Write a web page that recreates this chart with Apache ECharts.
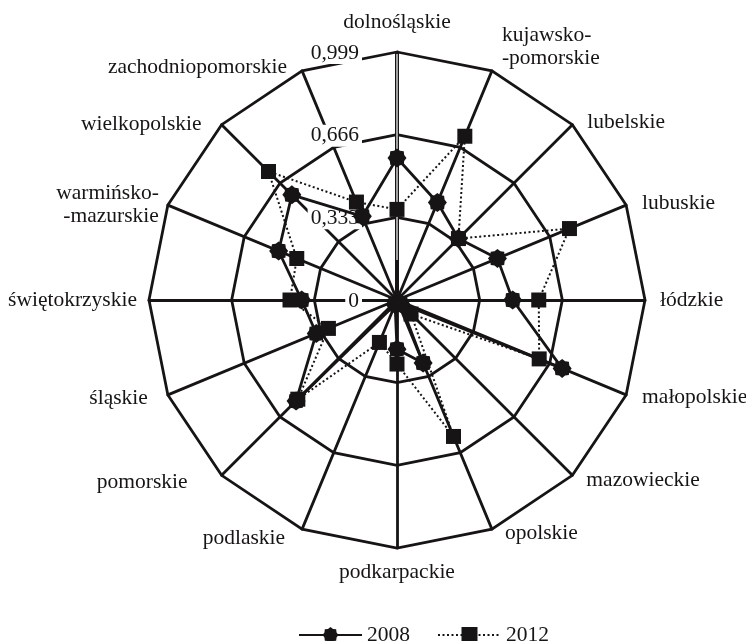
<!DOCTYPE html>
<html>
<head>
<meta charset="utf-8">
<style>html,body{margin:0;padding:0;background:#fff;}#c{width:746px;height:641px;}</style>
<script src="https://cdn.jsdelivr.net/npm/echarts@6/dist/echarts.min.js"></script>
</head>
<body>
<div id="c"></div>
<script>
// ---- data (clockwise from top) ----
const categories = ['dolnośląskie','kujawsko-\n-pomorskie','lubelskie','lubuskie','łódzkie','małopolskie','mazowieckie','opolskie','podkarpackie','podlaskie','pomorskie','śląskie','świętokrzyskie','warmińsko-\n-mazurskie','wielkopolskie','zachodniopomorskie'];
const values2008 = [0.572, 0.425, 0.350, 0.438, 0.466, 0.720, 0.020, 0.275, 0.198, 0.020, 0.575, 0.352, 0.384, 0.516, 0.599, 0.365];
const values2012 = [0.365, 0.714, 0.350, 0.752, 0.571, 0.620, 0.080, 0.595, 0.258, 0.185, 0.565, 0.299, 0.431, 0.437, 0.732, 0.427];
const tickValues = [0, 0.333, 0.666, 0.999];
const tickLabels = ['0', '0,333', '0,666', '0,999'];
const seriesNames = ['2008', '2012'];

// ---- layout ----
const CX = 397, CY = 300, R = 248, MAX = 0.999;
const INK = '#161415';
const FONT = '"Liberation Serif", "Times New Roman", serif';
const FS = 21.5;
const nameGapX = [0, 10, 15, 16, 15, 16, 14, 13, 0, 17, 34, 20, 12, 9, 20, 15];
const nameDy   = [-30, -24, -2, -2, 0, 2, 5, 4, 24, 9, 7, 3, 0, 0, 0, -4];

// ECharts radar runs counter-clockwise: reorder so the picture runs clockwise
const n = categories.length;
const order = [];
for (let k = 0; k < n; k++) order.push((n - k) % n);
const reorder = arr => order.map(i => arr[i]);

// star marker path
let sp = [];
for (let i = 0; i < 16; i++) {
  const a = i * Math.PI / 8;
  const r = i % 2 === 0 ? 50 : 41;
  sp.push((50 + r * Math.sin(a)).toFixed(2) + ',' + (50 - r * Math.cos(a)).toFixed(2));
}
const starPath = 'path://M' + sp.join(' L') + ' Z';

const graphics = [];
// double line on the top spoke
graphics.push({ type: 'line', z: 1, silent: true,
  shape: { x1: CX, y1: CY, x2: CX, y2: CY - R }, style: { stroke: INK, lineWidth: 4 } });
graphics.push({ type: 'line', z: 1, silent: true,
  shape: { x1: CX, y1: CY - 40, x2: CX, y2: CY - R + 2 }, style: { stroke: '#fff', lineWidth: 1.2 } });
categories.forEach((name, i) => {
  const a = i * 2 * Math.PI / n;
  const vx = CX + R * Math.sin(a), vy = CY - R * Math.cos(a);
  let x, align;
  if (i === 0 || i === n / 2) { x = CX; align = 'center'; }
  else if (Math.sin(a) > 0) { x = vx + nameGapX[i]; align = 'left'; }
  else { x = vx - nameGapX[i]; align = 'right'; }
  graphics.push({
    type: 'text', z: 1, silent: true,
    style: { text: name, x: x, y: vy + nameDy[i], fill: INK, font: FS + 'px ' + FONT,
             textAlign: align, textVerticalAlign: 'middle', lineHeight: 23 }
  });
});
tickValues.forEach((v, i) => {
  graphics.push({
    type: 'text', z: 2, silent: true,
    style: { text: tickLabels[i], x: CX - 35, y: CY - R * v / MAX + 1, fill: INK,
             font: FS + 'px ' + FONT, textAlign: 'right', textVerticalAlign: 'middle',
             backgroundColor: '#fff', padding: [0, 3, 0, 3] }
  });
});

const chart = echarts.init(document.getElementById('c'), null, { renderer: 'canvas' });
chart.setOption({
  animation: false,
  backgroundColor: '#fff',
  legend: {
    data: seriesNames,
    left: 293, top: 619,
    itemWidth: 63, itemHeight: 20, itemGap: 27,
    textStyle: { fontFamily: FONT, fontSize: FS, color: INK, padding: [0, 0, 0, 0] },
    selectedMode: false
  },
  grid: { left: -50, top: -50, width: 1, height: 1, show: false },
  xAxis: { type: 'value', show: false },
  yAxis: { type: 'value', show: false },
  radar: {
    center: [CX, CY], radius: R, startAngle: 90, splitNumber: 3, shape: 'polygon',
    indicator: reorder(categories).map(c => ({ name: c, min: 0, max: MAX })),
    axisName: { show: false },
    axisLine: { lineStyle: { color: INK, width: 2.8 } },
    splitLine: { lineStyle: { color: INK, width: 2.8 } },
    splitArea: { show: false },
    axisTick: { show: false }, axisLabel: { show: false }
  },
  graphic: { elements: graphics },
  series: [
    { type: 'line', name: '2008', data: [], symbol: starPath, symbolSize: 19,
      lineStyle: { color: INK, width: 2.8, type: 'solid' }, itemStyle: { color: INK } },
    { type: 'line', name: '2012', data: [], symbol: 'rect', symbolSize: 15,
      lineStyle: { color: INK, width: 2, type: [2, 2.5] }, itemStyle: { color: INK } },
    { type: 'radar', name: '2008', z: 3, symbol: starPath, symbolSize: 19,
      lineStyle: { color: INK, width: 2.8, type: 'solid' }, itemStyle: { color: INK },
      data: [{ name: '2008', value: reorder(values2008) }] },
    { type: 'radar', name: '2012', z: 4, symbol: 'rect', symbolSize: 15,
      lineStyle: { color: INK, width: 2, type: [2, 2.5] }, itemStyle: { color: INK },
      data: [{ name: '2012', value: reorder(values2012) }] }
  ]
});
</script>
</body>
</html>
